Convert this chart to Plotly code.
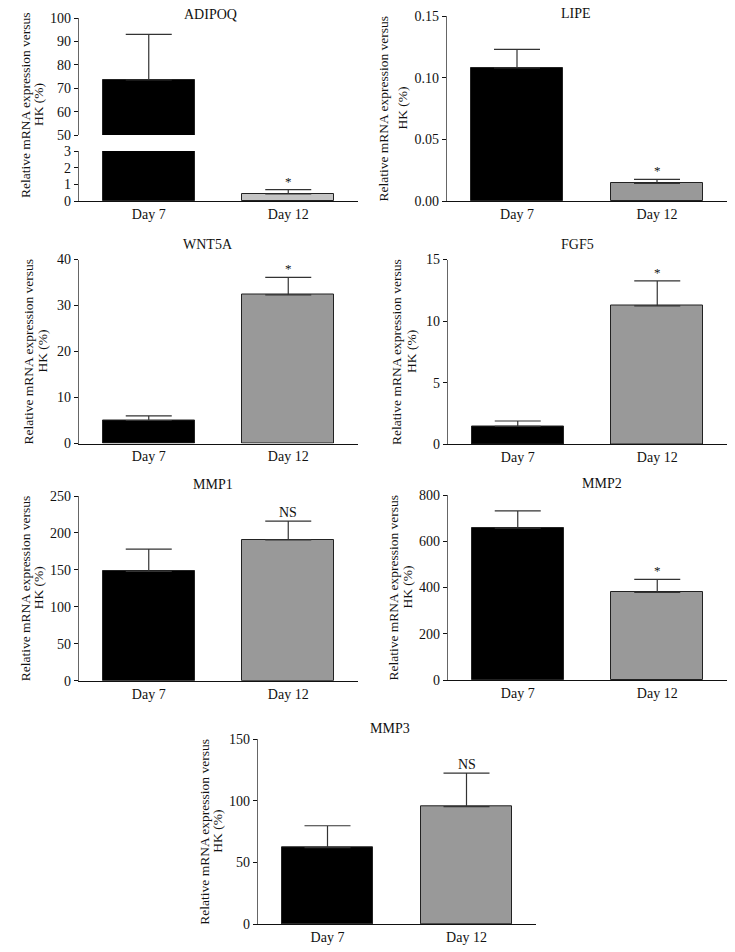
import plotly.graph_objects as go

W, H = 735, 952

days = ["Day 7", "Day 12"]
genes = ["ADIPOQ", "LIPE", "WNT5A", "FGF5", "MMP1", "MMP2", "MMP3"]

adipoq_mean = [73.5, 0.42]
adipoq_err = [19.5, 0.26]
lipe_mean = [0.108, 0.0143]
lipe_err = [0.015, 0.0033]
wnt5a_mean = [5.0, 32.3]
wnt5a_err = [1.0, 3.8]
fgf5_mean = [1.46, 11.23]
fgf5_err = [0.43, 2.03]
mmp1_mean = [148.0, 190.5]
mmp1_err = [30.0, 25.5]
mmp2_mean = [657.0, 379.0]
mmp2_err = [74.0, 56.0]
mmp3_mean = [62.0, 95.3]
mmp3_err = [17.8, 27.3]

significance = ["*", "*", "*", "*", "NS", "*", "NS"]

FONT = "Liberation Serif, Times New Roman, serif"
GRAY12 = "#999999"
GRAY12_LIGHT = "#c4c4c4"
TICK_SIZE = 14

panels = {
    "LIPE":  dict(x=(447, 727), y=(16, 201), rng=[0, 0.15], dtick=0.05, fmt=".2f",
                  title=(576, 14), ytitle=(383, 402)),
    "WNT5A": dict(x=(79, 358), y=(259.5, 443.5), rng=[0, 40], dtick=10, fmt="",
                  title=(208, 245), ytitle=(28, 42)),
    "FGF5":  dict(x=(448, 727), y=(259.5, 444.3), rng=[0, 15], dtick=5, fmt="",
                  title=(577, 245), ytitle=(397, 412)),
    "MMP1":  dict(x=(79, 358), y=(496, 680.7), rng=[0, 250], dtick=50, fmt="",
                  title=(213, 485), ytitle=(25, 38)),
    "MMP2":  dict(x=(448, 727), y=(495, 680), rng=[0, 800], dtick=200, fmt="",
                  title=(602, 483), ytitle=(393, 407)),
    "MMP3":  dict(x=(258, 536), y=(739.3, 924), rng=[0, 150], dtick=50, fmt="",
                  title=(390, 728), ytitle=(205, 218)),
}
data = {
    "LIPE": (lipe_mean, lipe_err),
    "WNT5A": (wnt5a_mean, wnt5a_err),
    "FGF5": (fgf5_mean, fgf5_err),
    "MMP1": (mmp1_mean, mmp1_err),
    "MMP2": (mmp2_mean, mmp2_err),
    "MMP3": (mmp3_mean, mmp3_err),
}

def px(v):
    return v / W

def py(v):
    return 1 - v / H

fig = go.Figure()
layout = {}
annotations = []

def xaxis_cfg(x0, x1, show_labels=True, line=True):
    return dict(domain=[px(x0), px(x1)], range=[-0.5, 1.5], type="category",
                showline=line, linecolor="#111111", linewidth=1.2,
                ticks="", showgrid=False, zeroline=False, fixedrange=True,
                showticklabels=show_labels, automargin=False,
                tickfont=dict(family=FONT, size=TICK_SIZE, color="#111111"))

def yaxis_cfg(y0, y1, rng, dtick, fmt, anchor, tick0=0):
    d = dict(domain=[py(y1), py(y0)], range=rng, dtick=dtick, tick0=tick0,
             showline=True, linecolor="#666666", linewidth=1.2,
             ticks="outside", ticklen=4, tickcolor="#111111", tickwidth=1,
             showgrid=False, zeroline=False, fixedrange=True, anchor=anchor,
             automargin=False,
             tickfont=dict(family=FONT, size=TICK_SIZE, color="#111111"))
    if fmt:
        d["tickformat"] = fmt
    return d

def add_bars(mean, err, colors, xa, ya):
    fig.add_trace(go.Bar(
        x=days, y=mean, width=0.66, xaxis=xa, yaxis=ya,
        marker=dict(color=colors, line=dict(color="#222222", width=1)),
        error_y=dict(type="data", array=err, arrayminus=[0, 0], symmetric=False,
                     color="#333333", thickness=1.2, width=23),
        showlegend=False, hoverinfo="skip"))

def ytitle(xs, ycenter):
    for txt, xx in zip(["Relative mRNA expression versus", "HK (%)"], xs):
        annotations.append(dict(text=txt, x=px(xx), y=py(ycenter), xref="paper", yref="paper",
                                textangle=-90, showarrow=False, xanchor="center", yanchor="middle",
                                font=dict(family=FONT, size=13.5, color="#111111")))

def ptitle(name, xx, yy):
    annotations.append(dict(text=name, x=px(xx), y=py(yy), xref="paper", yref="paper",
                            showarrow=False, xanchor="center", yanchor="middle",
                            font=dict(family=FONT, size=14, color="#111111")))

def sig(text, xcat, yval, xa, ya):
    annotations.append(dict(text=text, x=xcat, y=yval, xref=xa, yref=ya,
                            showarrow=False, xanchor="center", yanchor="bottom", yshift=-1,
                            font=dict(family=FONT, size=14 if text == "NS" else 13, color="#111111")))

# ---- ADIPOQ broken axis (axes 1 = lower, 2 = upper) ----
ax_x0, ax_x1 = 79, 358
layout["xaxis"] = xaxis_cfg(ax_x0, ax_x1)
layout["xaxis"]["anchor"] = "y"
layout["yaxis"] = yaxis_cfg(151, 201, [0, 3], 1, "", "x")
layout["xaxis2"] = xaxis_cfg(ax_x0, ax_x1, show_labels=False, line=False)
layout["xaxis2"]["anchor"] = "y2"
layout["xaxis2"]["matches"] = "x"
layout["yaxis2"] = yaxis_cfg(18, 135, [50, 100], 10, "", "x2", tick0=50)
ad_colors = ["#000000", GRAY12_LIGHT]
add_bars(adipoq_mean, adipoq_err, ad_colors, "x", "y")
add_bars(adipoq_mean, adipoq_err, ad_colors, "x2", "y2")
ptitle("ADIPOQ", 210, 15)
ytitle((25, 38), 105)
sig(significance[0], days[1], adipoq_mean[1] + adipoq_err[1], "x", "y")

# ---- other panels ----
idx = 3
for gi, name in enumerate(genes[1:], start=1):
    p = panels[name]
    xk = "xaxis%d" % idx
    yk = "yaxis%d" % idx
    xa = "x%d" % idx
    ya = "y%d" % idx
    xc = xaxis_cfg(*p["x"])
    xc["anchor"] = ya
    layout[xk] = xc
    layout[yk] = yaxis_cfg(p["y"][0], p["y"][1], p["rng"], p["dtick"], p["fmt"], xa)
    mean, err = data[name]
    add_bars(mean, err, ["#000000", GRAY12], xa, ya)
    ptitle(name, *p["title"])
    ytitle(p["ytitle"], (p["y"][0] + p["y"][1]) / 2)
    sig(significance[gi], days[1], mean[1] + err[1], xa, ya)
    idx += 1

fig.update_layout(**layout)
fig.update_layout(width=W, height=H, margin=dict(l=0, r=0, t=0, b=0, pad=0),
                  paper_bgcolor="white", plot_bgcolor="white",
                  annotations=annotations, bargap=0,
                  font=dict(family=FONT, size=13, color="#111111"))

fig.write_html("out.html", config={"displayModeBar": False},
               post_script="document.body.style.margin='0';document.body.style.overflow='hidden';")
